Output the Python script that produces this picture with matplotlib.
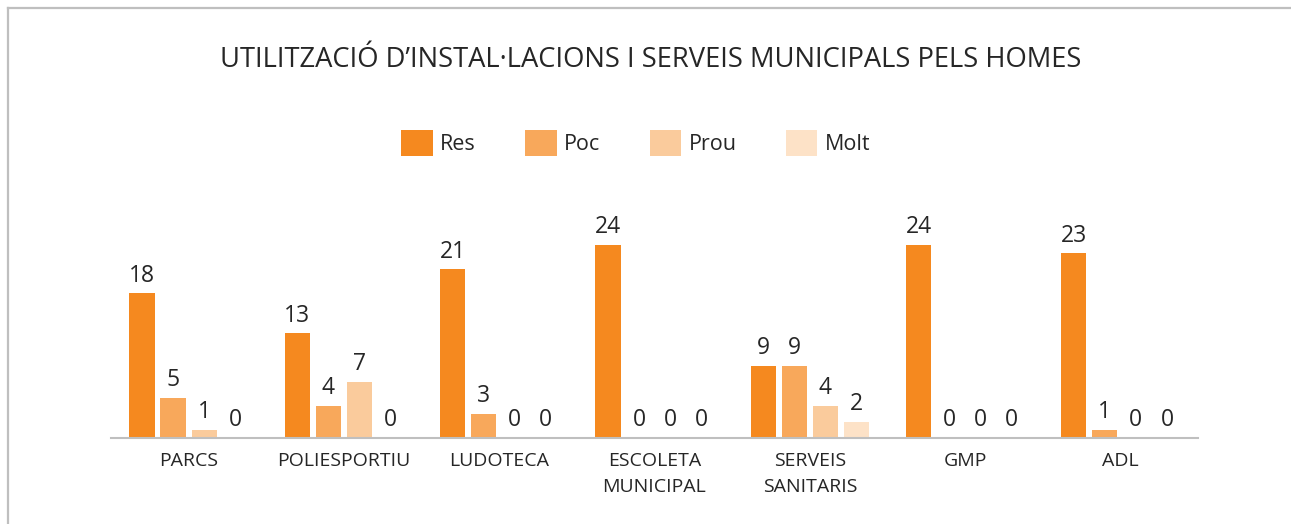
import matplotlib
matplotlib.use("Agg")
import matplotlib.pyplot as plt
import numpy as np
from matplotlib.patches import Patch
from matplotlib.lines import Line2D

categories = ["PARCS", "POLIESPORTIU", "LUDOTECA", "ESCOLETA\nMUNICIPAL",
              "SERVEIS\nSANITARIS", "GMP", "ADL"]
series_names = ["Res", "Poc", "Prou", "Molt"]
res = [18, 13, 21, 24, 9, 24, 23]
poc = [5, 4, 3, 0, 9, 0, 1]
prou = [1, 7, 0, 0, 4, 0, 0]
molt = [0, 0, 0, 0, 2, 0, 0]
title = "UTILITZACIÓ D’INSTAL·LACIONS I SERVEIS MUNICIPALS PELS HOMES"

colors = ["#F5891F", "#F8A85B", "#FACB9C", "#FDE2C7"]
text_color = "#262626"

plt.rcParams['font.family'] = ['Open Sans', 'DejaVu Sans']

W, H = 1291, 524
fig = plt.figure(figsize=(W / 100, H / 100), dpi=100)

# outer frame
fig.add_artist(Line2D([7.5 / W, 7.5 / W], [0, 1 - 7.5 / H], transform=fig.transFigure,
                      color="#BFBFBF", lw=1.6))
fig.add_artist(Line2D([7.5 / W, 1], [1 - 7.5 / H, 1 - 7.5 / H], transform=fig.transFigure,
                      color="#BFBFBF", lw=1.6))

ymax = 30
px_per_unit = 8.04
ax_bottom = 438
ax_top = ax_bottom - ymax * px_per_unit
ax = fig.add_axes([111 / W, 1 - ax_bottom / H, (1198 - 111) / W, (ax_bottom - ax_top) / H])

x = np.arange(len(categories))
step = 0.2
width = 0.163
all_series = [res, poc, prou, molt]
for i, (vals, c, name) in enumerate(zip(all_series, colors, series_names)):
    pos = x + (i - 1.5) * step
    ax.bar(pos, vals, width=width, color=c, label=name)
    for p, v in zip(pos, vals):
        ax.annotate(str(v), (p, v), xytext=(0, 4), textcoords="offset points",
                    ha="center", va="bottom", fontsize=16.5, color=text_color)

ax.set_xlim(-0.5, len(categories) - 0.5)
ax.set_ylim(0, ymax)
for s in ["top", "right", "left"]:
    ax.spines[s].set_visible(False)
ax.spines["bottom"].set_color("#BFBFBF")
ax.spines["bottom"].set_linewidth(1.5)
ax.set_yticks([])
ax.set_xticks(x)
ax.set_xticklabels(categories, fontsize=14, color=text_color, linespacing=1.55)
ax.tick_params(axis="x", length=0, pad=10)

fig.text(651 / W, 1 - 60 / H, title, ha="center", va="center", fontsize=19.7, color=text_color)

handles = [Patch(facecolor=c, edgecolor="none") for c in colors]
leg = fig.legend(handles, series_names, loc="center", bbox_to_anchor=(636 / W, 1 - 143 / H),
                 ncol=4, frameon=False, fontsize=15.5, handlelength=1.45, handleheight=1.45,
                 handletextpad=0.35, columnspacing=2.3)
for t in leg.get_texts():
    t.set_color(text_color)

fig.savefig("out.png", dpi=100)
